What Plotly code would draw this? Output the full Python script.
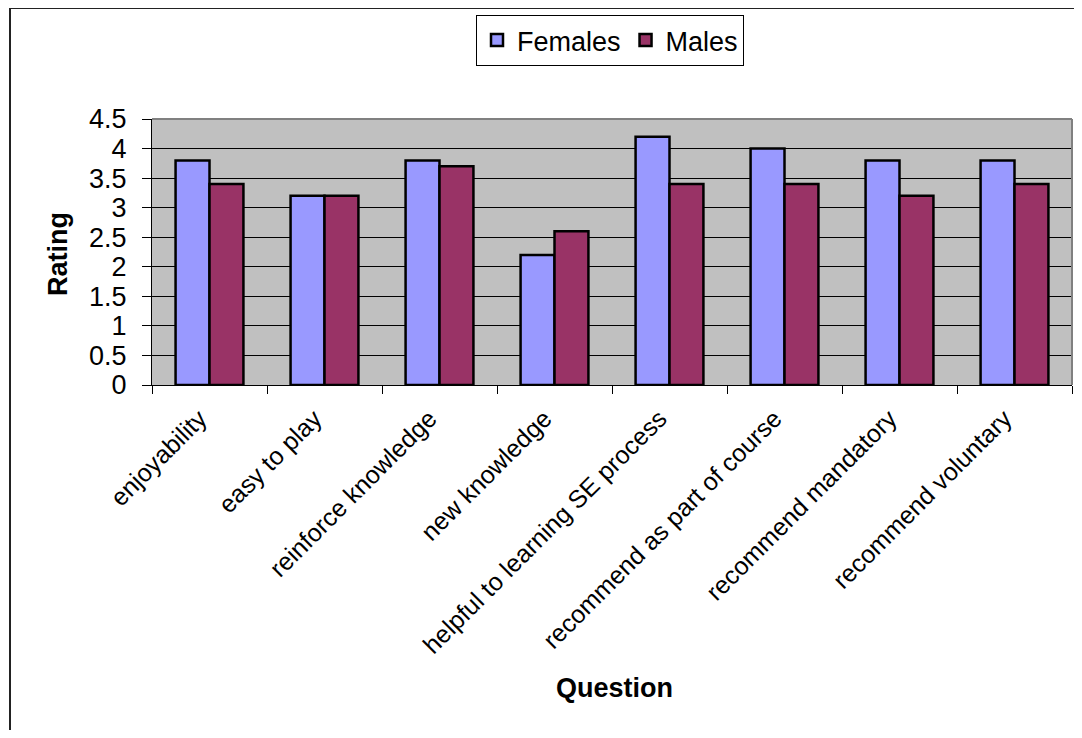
import plotly.graph_objects as go

questions = ["enjoyability", "easy to play", "reinforce knowledge", "new knowledge",
             "helpful to learning SE process", "recommend as part of course",
             "recommend mandatory", "recommend voluntary"]
females = [3.8, 3.2, 3.8, 2.2, 4.2, 4.0, 3.8, 3.8]
males = [3.4, 3.2, 3.7, 2.6, 3.4, 3.4, 3.2, 3.4]
y_tick_values = [0, 0.5, 1, 1.5, 2, 2.5, 3, 3.5, 4, 4.5]
y_tick_labels = ["0", "0.5", "1", "1.5", "2", "2.5", "3", "3.5", "4", "4.5"]

FONT = "Liberation Sans, Arial, sans-serif"
OFF = 8  # default page body margin
W, H = 1066, 722
# plot area in page coordinates: x 152..1072, y 119..385
L = 152 - OFF
T = 119 - OFF
R = W - (1072 - OFF)
B = H - (385 - OFF)
PW = W - L - R
PH = H - T - B

fig = go.Figure()
fig.add_trace(go.Bar(name="Females", x=questions, y=females,
                     marker=dict(color="#9999FF", line=dict(color="black", width=2.5))))
fig.add_trace(go.Bar(name="Males", x=questions, y=males,
                     marker=dict(color="#993366", line=dict(color="black", width=2.5))))

def px_x(px):
    return (px - OFF - L) / PW

def px_y(py):
    return (H - B - (py - OFF)) / PH

fig.update_layout(
    width=W, height=H,
    margin=dict(l=L, r=R, t=T, b=B, pad=0),
    paper_bgcolor="white",
    plot_bgcolor="#C0C0C0",
    barmode="group",
    bargap=0.41,
    bargroupgap=0,
    font=dict(family=FONT, color="black", size=22),
    legend=dict(orientation="h", x=px_x(610), xanchor="center", y=px_y(15), yanchor="top",
                bgcolor="white", bordercolor="black", borderwidth=1,
                font=dict(family=FONT, size=27, color="black"),
                itemwidth=30, tracegroupgap=0),
    xaxis=dict(tickangle=-45, ticks="outside", tickson="boundaries", ticklen=8,
               tickcolor="black", tickwidth=1, showline=True, linecolor="black", linewidth=1,
               tickfont=dict(family=FONT, size=25, color="black"), showgrid=False,
               ticklabelstandoff=8, ticklabelshift=-10),
    yaxis=dict(range=[0, 4.5], tickvals=y_tick_values, ticktext=y_tick_labels,
               ticks="outside", ticklen=9, tickcolor="black", tickwidth=1,
               showline=True, linecolor="black", linewidth=1,
               showgrid=True, gridcolor="black", gridwidth=1, zeroline=False,
               tickfont=dict(family=FONT, size=27, color="black"),
               ticklabelstandoff=10),
    shapes=[
        dict(type="line", xref="paper", yref="paper", x0=0, x1=1, y0=1, y1=1,
             line=dict(color="#808080", width=2), layer="above"),
        dict(type="line", xref="paper", yref="paper", x0=1, x1=1, y0=0, y1=1,
             line=dict(color="#808080", width=2), layer="above"),
        dict(type="rect", xref="paper", yref="paper", x0=px_x(10), x1=px_x(1100),
             y0=px_y(780), y1=px_y(8), line=dict(color="#222222", width=2),
             fillcolor="rgba(0,0,0,0)", layer="below"),
    ],
    annotations=[
        dict(text="<b>Rating</b>", xref="paper", yref="paper", x=px_x(58), y=px_y(254),
             textangle=-90, showarrow=False, font=dict(family=FONT, size=27, color="black"),
             xanchor="center", yanchor="middle"),
        dict(text="<b>Question</b>", xref="paper", yref="paper", x=px_x(614), y=px_y(688),
             showarrow=False, font=dict(family=FONT, size=27, color="black"),
             xanchor="center", yanchor="middle"),
    ],
)

fig.write_html("out.html")
